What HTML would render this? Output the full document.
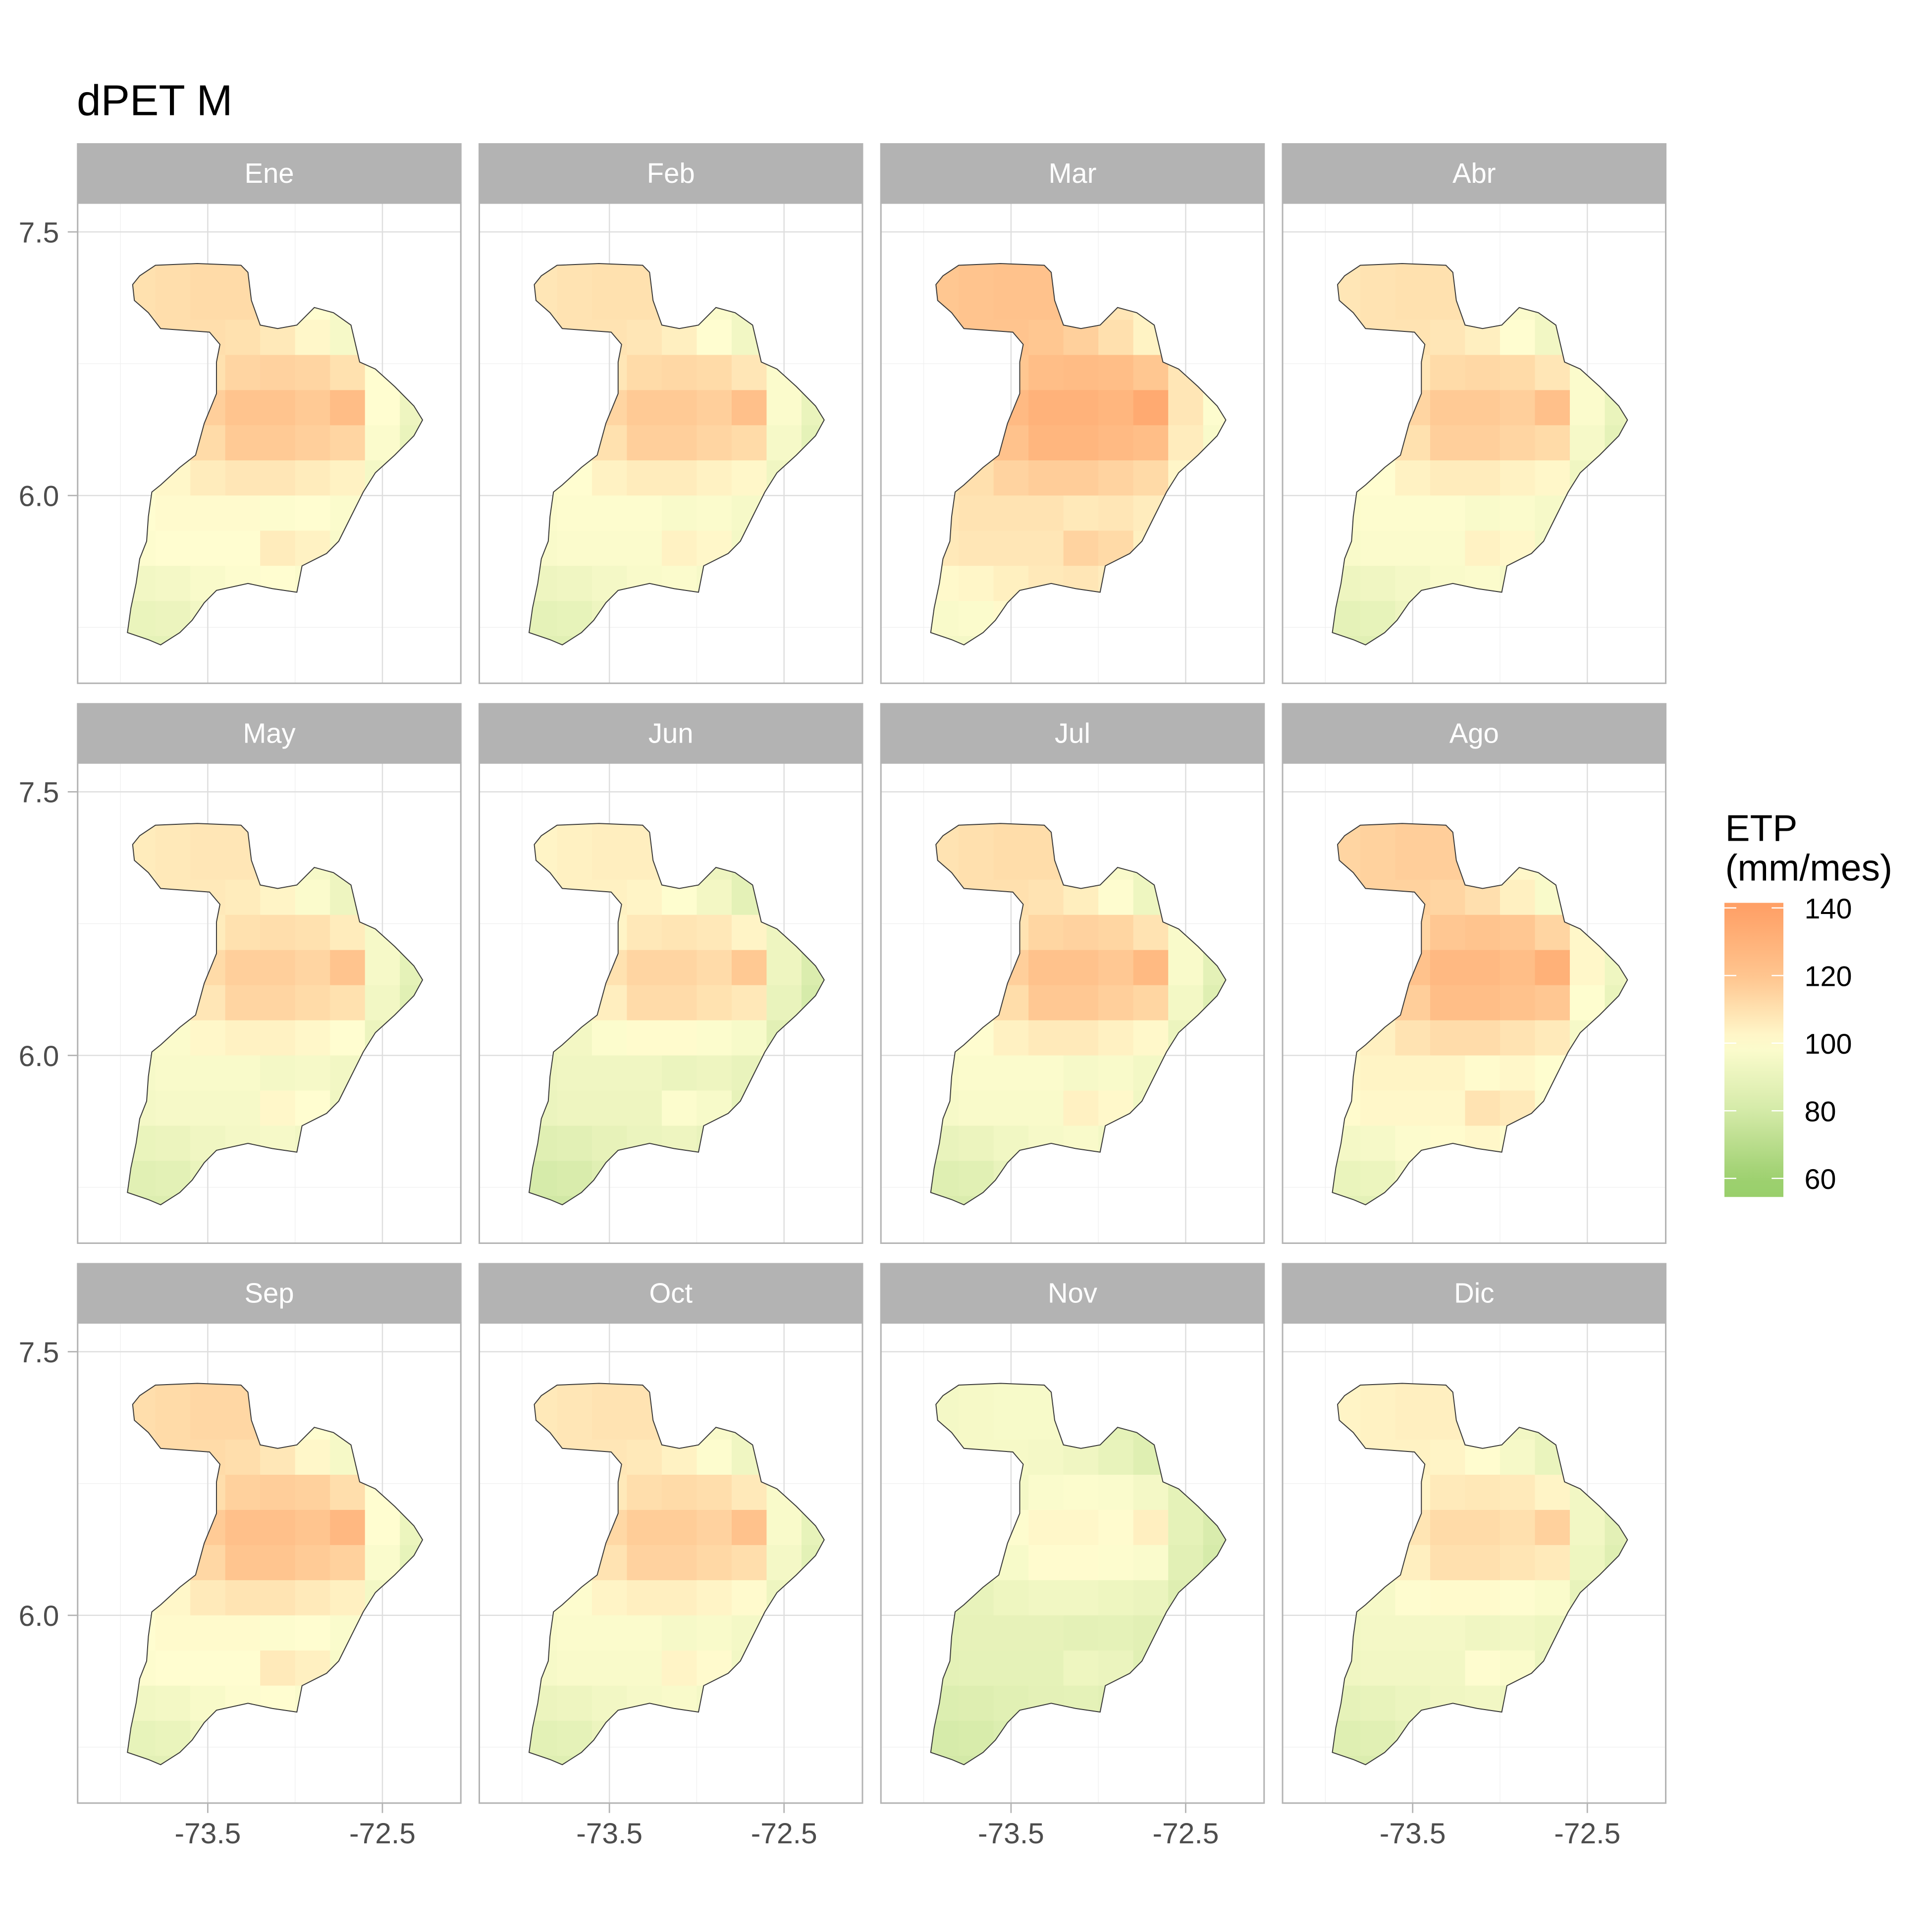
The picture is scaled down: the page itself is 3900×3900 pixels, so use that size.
<!DOCTYPE html>
<html><head><meta charset="utf-8"><style>
html,body{margin:0;padding:0;background:#fff}
svg{display:block}
text{font-family:"Liberation Sans",Arial,sans-serif}
</style></head><body>
<svg id="chart" xmlns="http://www.w3.org/2000/svg" width="3900" height="3900" viewBox="0 0 1560 1560">
<rect width="1560" height="1560" fill="#fff"/>
<text x="62" y="93" font-size="35" fill="#000">dPET M</text>
<g id="panels"></g>
<g id="legend"></g>
</svg>
<script>
const months = ["Ene","Feb","Mar","Abr","May","Jun","Jul","Ago","Sep","Oct","Nov","Dic"];
const monthOffset = [0,-2,8,-2,-4,-8,-3,2,0,-3,-12,-6];
const monthSpread = [1,1,1.1,1,1,1.1,1.2,1.2,1.1,1,0.7,0.9];
const cellLons = [-73.9,-73.7,-73.5,-73.3,-73.1,-72.9,-72.7,-72.5,-72.3];
const cellLats = [7.3,7.1,6.9,6.7,6.5,6.3,6.1,5.9,5.7,5.5,5.3,5.1];
const baseValues = [
[110,111,112,112,108,100,96,95,95],
[110,111,112,112,108,100,96,95,94],
[110,111,111,110,107,102,96,94,93],
[105,108,110,114,115,114,110,100,94],
[105,108,116,120,120,118,124,100,92],
[104,106,112,118,118,116,114,98,90],
[100,102,106,108,108,106,104,95,90],
[100,101,101,101,99,100,98,95,90],
[99,100,100,100,106,104,97,93,90],
[94,95,97,99,100,98,95,92,90],
[90,91,94,96,96,95,93,90,90],
[88,88,90,92,92,92,90,88,88]];
const outline = [[-73.93,7.20],[-73.89,7.25],[-73.80,7.31],[-73.56,7.32],[-73.31,7.31],[-73.27,7.27],[-73.25,7.11],[-73.20,6.97],[-73.10,6.95],[-72.99,6.97],[-72.89,7.07],[-72.78,7.04],[-72.68,6.97],[-72.63,6.76],[-72.54,6.72],[-72.43,6.62],[-72.32,6.51],[-72.27,6.43],[-72.32,6.34],[-72.43,6.23],[-72.54,6.13],[-72.61,6.02],[-72.68,5.88],[-72.75,5.74],[-72.82,5.67],[-72.96,5.60],[-72.99,5.45],[-73.13,5.47],[-73.27,5.50],[-73.45,5.46],[-73.52,5.39],[-73.59,5.29],[-73.66,5.22],[-73.77,5.15],[-73.84,5.18],[-73.96,5.22],[-73.94,5.36],[-73.91,5.50],[-73.89,5.64],[-73.85,5.74],[-73.84,5.88],[-73.82,6.02],[-73.77,6.06],[-73.66,6.16],[-73.57,6.23],[-73.52,6.41],[-73.45,6.58],[-73.45,6.76],[-73.43,6.86],[-73.49,6.93],[-73.77,6.95],[-73.84,7.04],[-73.92,7.11]];
const yTicks = [6.0,7.5];
const yTickLabels = ["6.0","7.5"];
const xTicks = [-73.5,-72.5];
const xTickLabels = ["-73.5","-72.5"];
const legendTicks = [60,80,100,120,140];

const NS="http://www.w3.org/2000/svg";
function mk(tag,attrs,parent){const e=document.createElementNS(NS,tag);for(const k in attrs)e.setAttribute(k,attrs[k]);if(parent)parent.appendChild(e);return e;}
const stops=[[50,[150,206,106]],[60,[157,208,111]],[80,[212,234,168]],[100,[255,253,208]],[120,[255,196,142]],[140,[255,160,102]],[150,[255,150,94]]];
function color(v){v=Math.max(50,Math.min(150,v));for(let i=0;i<stops.length-1;i++){const a=stops[i],b=stops[i+1];if(v<=b[0]){const t=(v-a[0])/(b[0]-a[0]);const c=a[1].map((x,j)=>Math.round(x+(b[1][j]-x)*t));return `rgb(${c[0]},${c[1]},${c[2]})`;}}return "rgb(255,150,94)";}
const colX=[62.7,387,711.3,1035.6], rowY=[115.6,567.7,1019.8], PW=309.4, SH=48.4, PH=387.7;
const lonMin=-74.245, lonMax=-72.051, latTop=7.664, pxPerLat=141.9;
const panels=document.getElementById('panels');
months.forEach((m,i)=>{
  const x0=colX[i%4], sy=rowY[Math.floor(i/4)], y0=sy+SH;
  const px=lon=>x0+(lon-lonMin)/(lonMax-lonMin)*PW;
  const py=lat=>y0+(latTop-lat)*pxPerLat;
  const g=mk('g',{},panels);
  
  
  mk('rect',{x:x0,y:y0,width:PW,height:PH,fill:'#fff'},g);
  [5.25,6.75].forEach(l=>mk('line',{x1:x0,x2:x0+PW,y1:py(l),y2:py(l),stroke:'#efefef','stroke-width':0.5},g));
  [-74.0,-73.0].forEach(l=>mk('line',{x1:px(l),x2:px(l),y1:y0,y2:y0+PH,stroke:'#efefef','stroke-width':0.5},g));
  yTicks.forEach(l=>mk('line',{x1:x0,x2:x0+PW,y1:py(l),y2:py(l),stroke:'#dedede','stroke-width':1},g));
  xTicks.forEach(l=>mk('line',{x1:px(l),x2:px(l),y1:y0,y2:y0+PH,stroke:'#dedede','stroke-width':1},g));
  const cid='clip'+i;
  const cp=mk('clipPath',{id:cid},g);
  const pts=outline.map(p=>px(p[0]).toFixed(1)+','+py(p[1]).toFixed(1)).join(' ');
  mk('polygon',{points:pts},cp);
  const cells=mk('g',{'clip-path':`url(#${cid})`},g);
  
  
  cellLats.forEach((lat,r)=>cellLons.forEach((lon,c)=>{
    const v=monthOffset[i]+100+monthSpread[i]*(baseValues[r][c]-100);
    const x1=px(lon-0.1),x2=px(lon+0.1),y1=py(lat+0.1),y2=py(lat-0.1);
    const rc=mk('rect',{x:x1,y:y1,width:x2-x1+0.3,height:y2-y1+0.3,fill:color(v)},cells);
    
    
  }));
  const ol=mk('polygon',{points:pts,fill:'none',stroke:'#3a3a3a','stroke-width':0.8},g);
  
  
  mk('rect',{x:x0,y:y0,width:PW,height:PH,fill:'none',stroke:'#b3b3b3','stroke-width':1.2},g);
  const st=mk('rect',{x:x0-0.6,y:sy,width:PW+1.2,height:SH,fill:'#b3b3b3'},g);
  
  
  const tt=mk('text',{x:x0+PW/2,y:sy+32,'font-size':22.5,fill:'#fff','text-anchor':'middle'},g);
  tt.textContent=m;
  
  
  if(i%4===0){
    yTicks.forEach((l,k)=>{
      mk('line',{x1:x0-8,x2:x0,y1:py(l),y2:py(l),stroke:'#b3b3b3','stroke-width':1.1},g);
      const t=mk('text',{x:x0-15,y:py(l)+8.5,'font-size':23.5,fill:'#4d4d4d','text-anchor':'end'},g);
      t.textContent=yTickLabels[k];
      
      
    });
  }
  if(i>=8){
    xTicks.forEach((l,k)=>{
      mk('line',{x1:px(l),x2:px(l),y1:y0+PH,y2:y0+PH+8,stroke:'#b3b3b3','stroke-width':1.1},g);
      const t=mk('text',{x:px(l),y:y0+PH+32.5,'font-size':23.5,fill:'#4d4d4d','text-anchor':'middle'},g);
      t.textContent=xTickLabels[k];
      
      
    });
  }
});
// legend
const lg=document.getElementById('legend');
const t1=mk('text',{x:1393,y:679,'font-size':30,fill:'#000'},lg);t1.textContent='ETP';


const t2=mk('text',{x:1393,y:711,'font-size':30,fill:'#000'},lg);t2.textContent='(mm/mes)';


const lTop=729,lBot=966.5,vTop=141.5,vBot=54.5;
const ly=v=>lTop+(vTop-v)/(vTop-vBot)*(lBot-lTop);
const defs=mk('defs',{},lg);
const grad=mk('linearGradient',{id:'lgrad',x1:0,y1:0,x2:0,y2:1},defs);
for(let k=0;k<=20;k++){const v=vTop-(vTop-vBot)*k/20;mk('stop',{offset:(k/20),'stop-color':color(v)},grad);}
const bar=mk('rect',{x:1392.4,y:lTop,width:47.6,height:lBot-lTop,fill:'url(#lgrad)'},lg);


legendTicks.forEach(v=>{
  mk('line',{x1:1392.4,x2:1402,y1:ly(v),y2:ly(v),stroke:'#fff','stroke-width':1},lg);
  mk('line',{x1:1430.5,x2:1440,y1:ly(v),y2:ly(v),stroke:'#fff','stroke-width':1},lg);
  const t=mk('text',{x:1457,y:ly(v)+8.5,'font-size':23,fill:'#000'},lg);
  t.textContent=v;
  
  
});
</script>
</body></html>
